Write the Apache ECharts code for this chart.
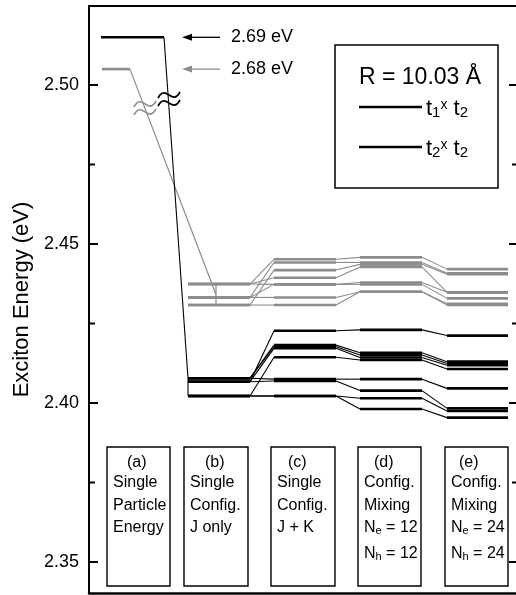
<!DOCTYPE html>
<html><head><meta charset="utf-8">
<script src="https://cdn.jsdelivr.net/npm/echarts@6/dist/echarts.min.js"></script>
<style>html,body{margin:0;padding:0;background:#fff}#c{width:516px;height:595px}</style>
</head><body><div id="c"></div>
<script>
// ---------- data ----------
const columnLabels = ['(a)', '(b)', '(c)', '(d)', '(e)'];
const boxTexts = [
  ['(a)', 'Single', 'Particle', 'Energy'],
  ['(b)', 'Single', 'Config.', 'J only'],
  ['(c)', 'Single', 'Config.', 'J + K'],
  ['(d)', 'Config.', 'Mixing', 'N{s|e} = 12', 'N{s|h} = 12'],
  ['(e)', 'Config.', 'Mixing', 'N{s|e} = 24', 'N{s|h} = 24']
];
const yTickValues = [2.35, 2.40, 2.45, 2.50];
const yMinorTickValues = [2.375, 2.425, 2.475];
// single particle levels (drawn on broken axis) and their true values
const singleParticleBlack = 2.515;
const singleParticleGray = 2.505;
const arrowLabels = ['2.69 eV', '2.68 eV'];
// t1 x t2 (black) states through columns b, c, d, e
const blackB = [2.4067, 2.4078, 2.4078, 2.4067, 2.4022, 2.4078, 2.4067, 2.4022, 2.4022];
const blackC = [2.4227, 2.4182, 2.4177, 2.4172, 2.4144, 2.4075, 2.4069, 2.4022, 2.4022];
const blackD = [2.4230, 2.4158, 2.4151, 2.4143, 2.4135, 2.4075, 2.4039, 2.4015, 2.3981];
const blackE = [2.4212, 2.4130, 2.4124, 2.4119, 2.4107, 2.4046, 2.3983, 2.3975, 2.3954];
// t2 x t2 (gray) states through columns b, c, d, e
const grayB = [2.4374, 2.4332, 2.4308, 2.4374, 2.4374, 2.4332, 2.4332, 2.4308];
const grayC = [2.4452, 2.4442, 2.4418, 2.4394, 2.4373, 2.4373, 2.4332, 2.4308];
const grayD = [2.4458, 2.4442, 2.4436, 2.4428, 2.4379, 2.4373, 2.4350, 2.4350];
const grayE = [2.4421, 2.4408, 2.4405, 2.4348, 2.4348, 2.4329, 2.4312, 2.4308];
const legendTitle = 'R = 10.03 Å';

// ---------- layout (x in units from left axis) ----------
const Y_MAX = 2.524843, Y_MIN = 2.340252;
const X_MAX = 427;
const colA = [12, 75], colAGray = [13, 41];
const cols = [[99, 161], [185, 247], [271, 333], [358, 419]];
const grayTieX = 127;
const boxX = [[18, 81], [95, 159], [182, 246], [269, 332], [356, 419]];
const boxTop = 2.386164, boxBottom = 2.342453;
const boxLineOffsets = [16, 36, 59, 81, 107];
const boxLeftPad = 6;
const boxTitlePad = [20, 21, 17, 16, 14];
const arrowTip = 93, arrowTail = 131, arrowTextX = 142;
const breakBlack = [80, 2.4956], breakGray = [56, 2.4928];

const BLACK = '#000', GRAY = '#8c8c8c';
const FONT = 'Liberation Sans, Arial, Helvetica, sans-serif';

function renderItem(params, api) {
  const P = (x, v) => api.coord([x, v]);
  const ch = [];
  const seg = (a, b, color, w) => ch.push({type: 'line', shape: {x1: a[0], y1: a[1], x2: b[0], y2: b[1]}, style: {stroke: color, lineWidth: w}});
  // extra ticks: left minor, right major + minor (inward)
  yMinorTickValues.forEach(v => { const p = P(0, v); seg([p[0], p[1]], [p[0] + 6, p[1]], BLACK, 2); });
  yTickValues.forEach(v => { const p = P(X_MAX, v); seg([p[0] - 7, p[1]], [p[0], p[1]], BLACK, 2); });
  yMinorTickValues.forEach(v => { const p = P(X_MAX, v); seg([p[0] - 4, p[1]], [p[0], p[1]], BLACK, 2); });
  const family = (arrs, color) => {
    const n = arrs[0].length;
    for (let i = 0; i < n; i++) {
      for (let k = 0; k < 4; k++) {
        seg(P(cols[k][0], arrs[k][i]), P(cols[k][1], arrs[k][i]), color, 2.6);
        if (k < 3) seg(P(cols[k][1], arrs[k][i]), P(cols[k + 1][0], arrs[k + 1][i]), color, 1.1);
      }
    }
  };
  // gray family
  family([grayB, grayC, grayD, grayE], GRAY);
  const gMax = Math.max(...grayB), gMin = Math.min(...grayB);
  seg(P(colAGray[0], singleParticleGray), P(colAGray[1], singleParticleGray), GRAY, 2.6);
  seg(P(colAGray[1], singleParticleGray), P(grayTieX, (gMax + gMin) / 2), GRAY, 1.2);
  seg(P(grayTieX, gMax), P(grayTieX, gMin), GRAY, 1.2);
  // black family
  family([blackB, blackC, blackD, blackE], BLACK);
  const bMax = Math.max(...blackB), bMin = Math.min(...blackB);
  seg(P(colA[0], singleParticleBlack), P(colA[1], singleParticleBlack), BLACK, 2.6);
  seg(P(colA[1], singleParticleBlack), P(cols[0][0], bMax), BLACK, 1.1);
  seg(P(cols[0][0], bMax), P(cols[0][0], bMin), BLACK, 1.1);
  // break marks
  const tilde = (c, color) => {
    [-4, 4].forEach(dy => {
      const cx = c[0], cy = c[1] + dy;
      ch.push({type: 'bezierCurve', shape: {x1: cx - 11, y1: cy + 3, x2: cx + 11, y2: cy - 3, cpx1: cx - 3, cpy1: cy - 12, cpx2: cx + 3, cpy2: cy + 12}, style: {stroke: color, lineWidth: 1.7, fill: null}});
    });
  };
  tilde(P(breakGray[0], breakGray[1]), GRAY);
  tilde(P(breakBlack[0], breakBlack[1]), BLACK);
  // arrows
  [[singleParticleBlack, BLACK], [singleParticleGray, GRAY]].forEach((a, i) => {
    const tip = P(arrowTip, a[0]), tail = P(arrowTail, a[0]);
    seg([tip[0] + 8, tip[1]], tail, a[1], 1.3);
    ch.push({type: 'polygon', shape: {points: [[tip[0], tip[1]], [tip[0] + 10, tip[1] - 3.5], [tip[0] + 10, tip[1] + 3.5]]}, style: {fill: a[1]}});
    const t = P(arrowTextX, a[0]);
    ch.push({type: 'text', x: t[0], y: t[1], style: {text: arrowLabels[i], fontSize: 18, fontFamily: FONT, fill: BLACK, align: 'left', verticalAlign: 'middle'}});
  });
  // column boxes
  boxX.forEach((bx, j) => {
    const tl = P(bx[0], boxTop), br = P(bx[1], boxBottom);
    ch.push({type: 'rect', shape: {x: tl[0], y: tl[1], width: br[0] - tl[0], height: br[1] - tl[1]}, style: {fill: null, stroke: BLACK, lineWidth: 1.4}});
    boxTexts[j].forEach((txt, li) => {
      const x = tl[0] + (li === 0 ? boxTitlePad[j] : boxLeftPad);
      ch.push({type: 'text', x: x, y: tl[1] + boxLineOffsets[li], style: {text: txt, fontSize: 16, fontFamily: FONT, fill: BLACK, align: 'left', verticalAlign: 'middle',
        rich: {s: {fontSize: 11, fontFamily: FONT, verticalAlign: 'bottom', lineHeight: 11}}}});
    });
  });
  return {type: 'group', children: ch};
}

const chart = echarts.init(document.getElementById('c'), null, {renderer: 'canvas'});
chart.setOption({
  animation: false,
  backgroundColor: '#fff',
  grid: {left: 89, right: 0, top: 6, bottom: 2},
  xAxis: [
    {type: 'value', position: 'bottom', min: 0, max: X_MAX, axisLine: {show: true, onZero: false, lineStyle: {color: BLACK, width: 2.5}}, axisTick: {show: false}, axisLabel: {show: false}, splitLine: {show: false}},
    {type: 'value', position: 'top', min: 0, max: X_MAX, axisLine: {show: true, onZero: false, lineStyle: {color: BLACK, width: 2}}, axisTick: {show: false}, axisLabel: {show: false}, splitLine: {show: false}}
  ],
  yAxis: [{
    type: 'value', min: Y_MIN, max: Y_MAX, splitLine: {show: false},
    position: 'left', name: 'Exciton Energy (eV)', nameLocation: 'middle', nameGap: 56, nameRotate: 90,
    nameTextStyle: {fontSize: 22, fontFamily: FONT, color: BLACK},
    axisLine: {show: true, onZero: false, lineStyle: {color: BLACK, width: 2}},
    axisTick: {show: true, inside: true, length: 9, lineStyle: {color: BLACK, width: 2}, customValues: yTickValues},
    axisLabel: {show: true, customValues: yTickValues, formatter: v => v.toFixed(2), fontSize: 18, fontFamily: FONT, color: BLACK, margin: 10}
  }],
  series: [{type: 'custom', xAxisIndex: 0, yAxisIndex: 0, clip: false, data: [0], renderItem: renderItem}],
  graphic: [
    {type: 'rect', shape: {x: 335, y: 45, width: 163, height: 143}, style: {fill: '#fff', stroke: BLACK, lineWidth: 1.5}, z: 10},
    {type: 'text', x: 359, y: 78, style: {text: legendTitle, fontSize: 23, fontFamily: FONT, fill: BLACK, align: 'left', verticalAlign: 'middle'}, z: 11},
    {type: 'line', shape: {x1: 359, y1: 107, x2: 422, y2: 107}, style: {stroke: BLACK, lineWidth: 2.5}, z: 11},
    {type: 'line', shape: {x1: 359, y1: 147, x2: 422, y2: 147}, style: {stroke: BLACK, lineWidth: 2.5}, z: 11},
    {type: 'text', x: 426, y: 109, style: {text: 't{s|1}{x|x} t{s|2}', fontSize: 22, fontFamily: FONT, fill: BLACK, align: 'left', verticalAlign: 'middle',
      rich: {s: {fontSize: 15, fontFamily: FONT, verticalAlign: 'bottom', lineHeight: 15}, x: {fontSize: 14, fontFamily: FONT, verticalAlign: 'top', lineHeight: 14}}}, z: 11},
    {type: 'text', x: 426, y: 149, style: {text: 't{s|2}{x|x} t{s|2}', fontSize: 22, fontFamily: FONT, fill: BLACK, align: 'left', verticalAlign: 'middle',
      rich: {s: {fontSize: 15, fontFamily: FONT, verticalAlign: 'bottom', lineHeight: 15}, x: {fontSize: 14, fontFamily: FONT, verticalAlign: 'top', lineHeight: 14}}}, z: 11}
  ]
});
</script></body></html>
